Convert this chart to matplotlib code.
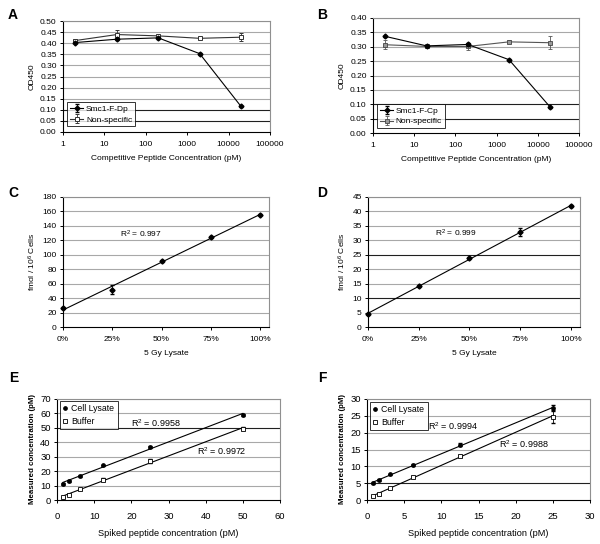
import numpy as np
import matplotlib
matplotlib.use('Agg')
import matplotlib.pyplot as plt
from matplotlib.ticker import NullLocator

plt.rcParams['font.family'] = ['Liberation Sans', 'DejaVu Sans']
plt.rcParams['mathtext.fontset'] = 'custom'
plt.rcParams['mathtext.rm'] = 'Liberation Sans'
plt.rcParams['mathtext.it'] = 'Liberation Sans:italic'
plt.rcParams['mathtext.bf'] = 'Liberation Sans:bold'

# ---------------- data ----------------
conc_ab = [2, 20, 200, 2000, 20000]
log_ticks = [1, 10, 100, 1000, 10000, 100000]
log_tick_labels = ['1', '10', '100', '1000', '10000', '100000']

a_smc = [0.403, 0.418, 0.424, 0.353, 0.115]
a_smc_err = [0.004, 0.004, 0.004, 0.004, 0.003]
a_ns = [0.412, 0.439, 0.433, 0.422, 0.427]
a_ns_err = [0.006, 0.02, 0.005, 0.004, 0.019]

b_smc = [0.336, 0.303, 0.308, 0.255, 0.090]
b_smc_err = [0.003, 0.003, 0.004, 0.003, 0.002]
b_ns = [0.307, 0.301, 0.301, 0.317, 0.314]
b_ns_err = [0.015, 0.004, 0.012, 0.005, 0.022]

lysate_frac = [0.0, 0.25, 0.5, 0.75, 1.0]
lysate_labels = ['0%', '25%', '50%', '75%', '100%']
c_vals = [26.3, 51.7, 90.9, 124.2, 155.5]
c_err = [1.0, 6.0, 1.5, 1.5, 1.0]
d_vals = [4.4, 14.2, 23.9, 32.8, 41.8]
d_err = [0.3, 0.4, 0.4, 1.4, 0.3]

e_x = [1.5625, 3.125, 6.25, 12.5, 25, 50]
e_lys = [11.2, 13.2, 16.6, 24.0, 37.0, 59.0]
e_lys_err = [0.5, 0.7, 0.5, 0.6, 0.7, 0.7]
e_buf = [1.8, 3.7, 7.5, 14.2, 27.0, 49.3]
e_buf_err = [0.4, 0.5, 0.5, 0.8, 1.5, 1.0]

f_x = [0.78125, 1.5625, 3.125, 6.25, 12.5, 25]
f_lys = [5.0, 5.9, 7.6, 10.3, 16.4, 27.3]
f_lys_err = [0.2, 0.2, 0.2, 0.3, 0.4, 0.8]
f_buf = [1.1, 1.8, 3.5, 6.9, 13.1, 24.8]
f_buf_err = [0.2, 0.2, 0.2, 0.3, 0.4, 1.8]

r2_c = 'R$^2$ = 0.997'
r2_d = 'R$^2$ = 0.999'
r2_e = ['R$^2$ = 0.9958', 'R$^2$ = 0.9972']
r2_f = ['R$^2$ = 0.9994', 'R$^2$ = 0.9988']

FS = 6.0
FS_EF = 6.8
GRID = '#a8a8a8'
DARK = '#202020'

fig = plt.figure(figsize=(6.0, 5.44), dpi=100)


def style(ax, yticks, dark=(), fs=FS, xpad=4):
    ax.set_yticks(yticks)
    ax.set_ylim(yticks[0], yticks[-1])
    for v in yticks[1:]:
        ax.axhline(v, color=DARK if v in dark else GRID, lw=0.8, zorder=0)
    for s in ['top', 'right']:
        ax.spines[s].set_color('#909090')
        ax.spines[s].set_linewidth(0.8)
    for s in ['left', 'bottom']:
        ax.spines[s].set_color('black')
        ax.spines[s].set_linewidth(0.8)
    ax.tick_params(labelsize=fs, length=2.5, width=0.7, pad=2)
    ax.tick_params(axis='x', pad=xpad)


def letter(x, y, s):
    fig.text(x / 600, 1 - y / 544, s, fontsize=10, fontweight='bold', va='top', ha='left')


# ---------------- A ----------------
axA = fig.add_axes([63 / 600, 1 - 132 / 544, 207 / 600, 111 / 544])
axA.set_xscale('log')
axA.errorbar(conc_ab, a_ns, yerr=a_ns_err, color='#333333', lw=0.8, marker='s', ms=3.2,
             mfc='white', mec='#333333', mew=0.7, capsize=1.5, elinewidth=0.6, label='Non-specific', zorder=3)
axA.errorbar(conc_ab, a_smc, yerr=a_smc_err, color='black', lw=0.8, marker='D', ms=2.5,
             mfc='black', mec='black', capsize=1.2, elinewidth=0.6, label='Smc1-F-Dp', zorder=4)
axA.set_xlim(1, 100000)
axA.set_xticks(log_ticks)
axA.set_xticklabels(log_tick_labels)
axA.xaxis.set_minor_locator(NullLocator())
style(axA, [round(0.05 * i, 2) for i in range(11)], dark=(0.05, 0.1))
axA.yaxis.set_major_formatter(matplotlib.ticker.FormatStrFormatter('%.2f'))
axA.set_xlabel('Competitive Peptide Concentration (pM)', fontsize=FS, labelpad=5)
axA.set_ylabel('OD450', fontsize=FS, labelpad=3)
h, l = axA.get_legend_handles_labels()
legA = axA.legend(h[::-1], l[::-1], loc='lower left', bbox_to_anchor=(0.02, 0.05), fontsize=FS,
                  frameon=True, fancybox=False, edgecolor='black', handlelength=1.6,
                  borderpad=0.35, labelspacing=0.3, handletextpad=0.3, borderaxespad=0)
legA.get_frame().set_linewidth(0.7)
letter(8, 8, 'A')

# ---------------- B ----------------
axB = fig.add_axes([373 / 600, 1 - 133 / 544, 206 / 600, 115 / 544])
axB.set_xscale('log')
axB.errorbar(conc_ab, b_ns, yerr=b_ns_err, color='#555555', lw=0.8, marker='s', ms=3.2,
             mfc='#999999', mec='#444444', mew=0.6, capsize=1.5, elinewidth=0.6, label='Non-specific', zorder=3)
axB.errorbar(conc_ab, b_smc, yerr=b_smc_err, color='black', lw=0.8, marker='D', ms=2.5,
             mfc='black', mec='black', capsize=1.2, elinewidth=0.6, label='Smc1-F-Cp', zorder=4)
axB.set_xlim(1, 100000)
axB.set_xticks(log_ticks)
axB.set_xticklabels(log_tick_labels)
axB.xaxis.set_minor_locator(NullLocator())
style(axB, [round(0.05 * i, 2) for i in range(9)], dark=(0.05, 0.1))
axB.yaxis.set_major_formatter(matplotlib.ticker.FormatStrFormatter('%.2f'))
axB.set_xlabel('Competitive Peptide Concentration (pM)', fontsize=FS, labelpad=5)
axB.set_ylabel('OD450', fontsize=FS, labelpad=3)
h, l = axB.get_legend_handles_labels()
legB = axB.legend(h[::-1], l[::-1], loc='lower left', bbox_to_anchor=(0.02, 0.04), fontsize=FS,
                  frameon=True, fancybox=False, edgecolor='black', handlelength=1.6,
                  borderpad=0.35, labelspacing=0.3, handletextpad=0.3, borderaxespad=0)
legB.get_frame().set_linewidth(0.7)
letter(317, 8, 'B')


# ---------------- C / D ----------------
def lysate_panel(rect, vals, errs, yticks, dark, r2, r2pos):
    ax = fig.add_axes(rect)
    xs = np.array(lysate_frac)
    p = np.polyfit(xs, vals, 1)
    ax.plot([xs[0], xs[-1]], np.polyval(p, [xs[0], xs[-1]]), color='black', lw=0.8, zorder=3)
    ax.errorbar(xs, vals, yerr=errs, fmt='D', color='black', ms=2.6, capsize=1.5, elinewidth=0.6, zorder=4,
                clip_on=False)
    ax.set_xlim(0, 1.045)
    ax.set_xticks(lysate_frac)
    ax.set_xticklabels(lysate_labels)
    style(ax, yticks, dark)
    ax.set_xlabel('5 Gy Lysate', fontsize=FS, labelpad=5)
    ax.set_ylabel('fmol / 10$^6$ Cells', fontsize=FS, labelpad=3)
    ax.text(r2pos[0], r2pos[1], r2, fontsize=FS, va='center', ha='left')
    return ax


lysate_panel([63 / 600, 1 - 327 / 544, 206 / 600, 130 / 544], c_vals, c_err,
             list(range(0, 181, 20)), (), r2_c, (0.29, 128))
letter(8, 186, 'C')
lysate_panel([368 / 600, 1 - 327 / 544, 212 / 600, 130 / 544], d_vals, d_err,
             list(range(0, 46, 5)), (10, 25), r2_d, (0.33, 32.3))
letter(317, 186, 'D')


# ---------------- E / F ----------------
def spike_panel(rect, xs, lys, lys_err, buf, buf_err, xlim, xstep, yticks, dark, r2s, r2pos, leg_anchor):
    ax = fig.add_axes(rect)
    xs = np.array(xs)
    for yy in (lys, buf):
        p = np.polyfit(xs, yy, 1)
        ax.plot([xs[0], xs[-1]], np.polyval(p, [xs[0], xs[-1]]), color='black', lw=0.8, zorder=3)
    ax.errorbar(xs, lys, yerr=lys_err, fmt='none', ecolor='black', capsize=1.3, elinewidth=0.6, zorder=4)
    ax.errorbar(xs, buf, yerr=buf_err, fmt='none', ecolor='black', capsize=1.3, elinewidth=0.6, zorder=4)
    ax.plot(xs, lys, 'o', color='black', ms=2.4, zorder=5, label='Cell Lysate')
    ax.plot(xs, buf, 's', mfc='white', mec='black', mew=0.6, ms=2.6, zorder=5, label='Buffer')
    ax.set_xlim(*xlim)
    ax.set_xticks(np.arange(xlim[0], xlim[1] + 0.1, xstep))
    style(ax, yticks, dark, fs=FS_EF, xpad=6)
    ax.set_xlabel('Spiked peptide concentration (pM)', fontsize=FS + 0.6, labelpad=6)
    ax.set_ylabel('Measured concentration (pM)', fontsize=FS - 0.3, fontweight='bold', labelpad=3)
    for t, pos in zip(r2s, r2pos):
        ax.text(pos[0], pos[1], t, fontsize=FS + 0.5, va='center', ha='left')
    leg = ax.legend(loc='upper left', bbox_to_anchor=leg_anchor, fontsize=FS + 0.3, frameon=True, fancybox=False,
                    edgecolor='black', handlelength=0.5, borderpad=0.4, labelspacing=0.45,
                    handletextpad=0.4, borderaxespad=0)
    leg.get_frame().set_linewidth(0.7)
    return ax


spike_panel([57 / 600, 1 - 500 / 544, 223 / 600, 101 / 544], e_x, e_lys, e_lys_err, e_buf, e_buf_err,
            (0, 60), 10, list(range(0, 71, 10)), (50,), r2_e, [(20.0, 53.4), (37.6, 34.1)], (0.012, 0.985))
letter(9, 371, 'E')
spike_panel([367 / 600, 1 - 500 / 544, 223 / 600, 101 / 544], f_x, f_lys, f_lys_err, f_buf, f_buf_err,
            (0, 30), 5, list(range(0, 31, 5)), (5,), r2_f, [(8.2, 21.9), (17.8, 16.7)], (0.012, 0.975))
letter(318, 371, 'F')

fig.savefig('out.png', dpi=100, facecolor='white')
